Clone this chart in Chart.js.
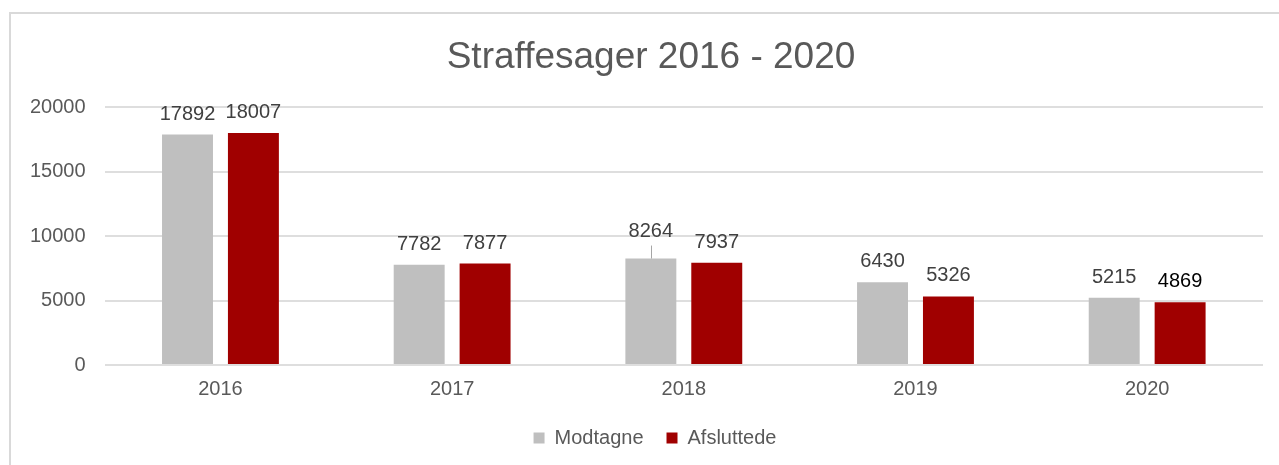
<!DOCTYPE html>
<html>
<head>
<meta charset="utf-8">
<script src="https://cdn.jsdelivr.net/npm/chart.js@4"></script>
<style>
    body { margin: 0; background: #fff; overflow: hidden; }
    .frame { position: absolute; left: 9px; top: 12px; width: 1400px; height: 600px; border-left: 2px solid #d9d9d9; border-top: 2px solid #d9d9d9; }
    .wrap { position: absolute; left: 0; top: 0; width: 1279px; height: 465px; }
</style>
</head>
<body>
<div class="frame"></div>
<div class="wrap"><canvas id="barChart"></canvas></div>
<script>
const years = ['2016', '2017', '2018', '2019', '2020'];
const modtagne = [17892, 7782, 8264, 6430, 5215];
const afsluttede = [18007, 7877, 7937, 5326, 4869];
const yTicks = [0, 5000, 10000, 15000, 20000];

const FONT = '"Liberation Sans", Arial, sans-serif';

// draws the value above each bar (one label is lifted with a leader line)
const valueLabels = {
    id: 'valueLabels',
    afterDatasetsDraw(chart) {
        const ctx = chart.ctx;
        ctx.save();
        ctx.font = '20px ' + FONT;
        ctx.textAlign = 'center';
        ctx.textBaseline = 'alphabetic';
        chart.data.datasets.forEach((ds, di) => {
            chart.getDatasetMeta(di).data.forEach((bar, i) => {
                let lift = 15;
                if (di === 0 && i === 2) {
                    lift = 22;
                    ctx.strokeStyle = '#a6a6a6';
                    ctx.lineWidth = 1;
                    ctx.beginPath();
                    ctx.moveTo(Math.round(bar.x) + 0.5, bar.y);
                    ctx.lineTo(Math.round(bar.x) + 0.5, bar.y - 13);
                    ctx.stroke();
                }
                ctx.fillStyle = (di === 1 && i === 4) ? '#000000' : '#404040';
                ctx.fillText(String(ds.data[i]), bar.x, bar.y - lift);
            });
        });
        ctx.restore();
    }
};

// title and legend sit a bit right of the canvas centre in the original
const shiftBlocks = {
    id: 'shiftBlocks',
    afterLayout(chart) {
        chart.titleBlock.left += 14;
        chart.titleBlock.right += 14;
        chart.legend.left += 18;
        chart.legend.right += 18;
    }
};

const ctxBar = document.getElementById('barChart').getContext('2d');
const barChart = new Chart(ctxBar, {
    type: 'bar',
    data: {
        labels: years,
        datasets: [
            {
                label: 'Modtagne',
                data: modtagne,
                backgroundColor: '#bfbfbf',
                categoryPercentage: 0.569,
                barPercentage: 0.773,
            },
            {
                label: 'Afsluttede',
                data: afsluttede,
                backgroundColor: '#a00000',
                categoryPercentage: 0.569,
                barPercentage: 0.773,
            }
        ]
    },
    options: {
        responsive: true,
        maintainAspectRatio: false,
        animation: false,
        layout: {
            padding: { left: 11, right: 16, top: 36, bottom: 7 }
        },
        plugins: {
            title: {
                display: true,
                text: 'Straffesager 2016 - 2020',
                color: '#595959',
                font: { family: FONT, size: 37, weight: 'normal' },
                padding: { top: 0, bottom: 27 }
            },
            legend: {
                display: true,
                position: 'bottom',
                labels: {
                    color: '#595959',
                    font: { family: FONT, size: 20 },
                    boxWidth: 11,
                    boxHeight: 11,
                    padding: 23
                }
            },
            tooltip: { enabled: false }
        },
        scales: {
            x: {
                grid: { display: false },
                border: { display: false },
                ticks: {
                    color: '#595959',
                    font: { family: FONT, size: 20 },
                    padding: 4
                }
            },
            y: {
                min: 0,
                max: 20000,
                afterBuildTicks: axis => {
                    axis.ticks = yTicks.map(v => ({ value: v }));
                },
                grid: {
                    color: '#dedede',
                    lineWidth: 2,
                    drawTicks: false
                },
                border: { display: false },
                ticks: {
                    color: '#595959',
                    font: { family: FONT, size: 20 },
                    padding: 19,
                    callback: value => String(value)
                }
            }
        }
    },
    plugins: [valueLabels, shiftBlocks]
});
</script>
</body>
</html>
